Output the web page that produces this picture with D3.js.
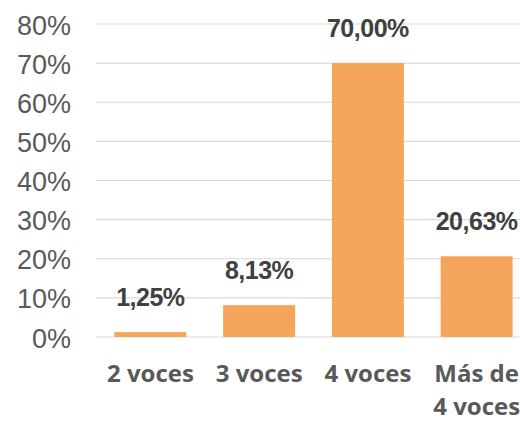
<!DOCTYPE html>
<html>
<head>
<meta charset="utf-8">
<script src="https://cdn.jsdelivr.net/npm/d3@7"></script>
<style>
  body { margin: 0; background: #fff; }
  svg { display: block; }
</style>
</head>
<body>
<svg id="chart"></svg>
<script>
// chart data
const categories = ["2 voces", "3 voces", "4 voces", "Más de\n4 voces"];
const values = [1.25, 8.13, 70.00, 20.63];   // percent
const yTicks = [0, 10, 20, 30, 40, 50, 60, 70, 80];

function drawChart() {
  const width = 520, height = 422;
  const esLocale = d3.formatLocale({ decimal: ",", thousands: ".", grouping: [3], currency: ["", " €"] });
  const fmtValue = esLocale.format(".2f");

  const svg = d3.select("svg#chart")
    .attr("width", width)
    .attr("height", height);

  const x = d3.scaleBand()
    .domain(categories)
    .range([96, 531])
    .paddingInner(0.338)
    .paddingOuter(0.169);

  const y = d3.scaleLinear()
    .domain([0, 80])
    .range([337, 24]);

  // gridlines
  svg.append("g")
    .selectAll("line")
    .data(yTicks)
    .enter().append("line")
    .attr("x1", 96)
    .attr("x2", 531)
    .attr("y1", d => y(d))
    .attr("y2", d => y(d))
    .attr("stroke", "#d9d9d9")
    .attr("stroke-width", 1.2);

  // y axis labels
  const yAxis = svg.append("g")
    .attr("transform", "translate(71,0)")
    .call(d3.axisLeft(y).tickValues(yTicks).tickSize(0).tickPadding(0).tickFormat(d => d + "%"));
  yAxis.select(".domain").remove();
  yAxis.selectAll("text")
    .attr("fill", "#595959")
    .attr("dy", "0.37em")
    .style("font-family", "'Liberation Sans', Arial, sans-serif")
    .style("font-size", "27px");

  // bars
  svg.selectAll(".bar")
    .data(values)
    .enter().append("rect")
    .attr("class", "bar")
    .attr("x", (d, i) => x(categories[i]))
    .attr("y", d => y(d))
    .attr("width", x.bandwidth())
    .attr("height", d => y(0) - y(d))
    .attr("fill", "#f5a45b");

  // value labels
  svg.selectAll(".val")
    .data(values)
    .enter().append("text")
    .attr("class", "val")
    .attr("x", (d, i) => x(categories[i]) + x.bandwidth() / 2)
    .attr("y", d => y(d) - 26)
    .attr("text-anchor", "middle")
    .attr("fill", "#404040")
    .style("font-family", "'Liberation Sans', Arial, sans-serif")
    .style("font-weight", "bold")
    .style("font-size", "25px")
    .style("letter-spacing", "-0.5px")
    .text(d => fmtValue(d) + "%");

  // category labels (two lines where needed)
  const xAxis = svg.append("g")
    .attr("transform", "translate(0,337)")
    .call(d3.axisBottom(x).tickSize(0).tickPadding(0));
  xAxis.select(".domain").remove();
  xAxis.selectAll("text")
    .attr("y", 0)
    .attr("dy", null)
    .attr("fill", "#595959")
    .style("font-family", "'Open Sans', sans-serif")
    .style("font-weight", "bold")
    .style("font-size", "24px")
    .text(null)
    .each(function(d) {
      const lines = d.split("\n");
      const t = d3.select(this);
      lines.forEach((line, k) => {
        t.append("tspan")
          .attr("x", 0)
          .attr("y", 45 + k * 33)
          .text(line);
      });
    });
}

drawChart();
</script>
</body>
</html>
